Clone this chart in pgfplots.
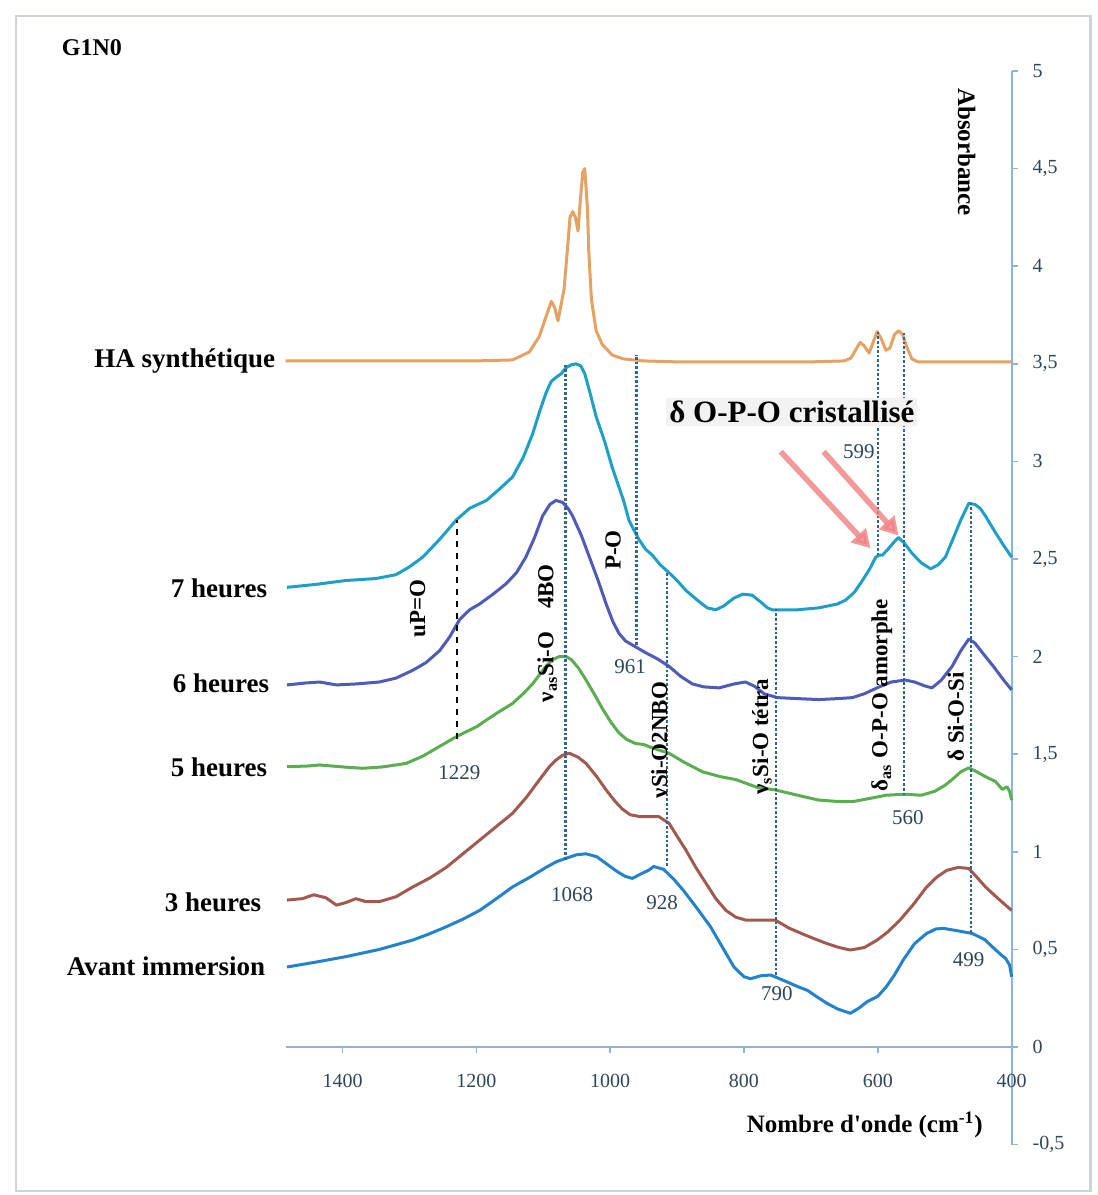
\documentclass[border=0pt]{standalone}
\usepackage{fontspec}
\setmainfont{Liberation Serif}
\usepackage{pgfplots}
\pgfplotsset{compat=1.18}
\usetikzlibrary{arrows.meta}
\definecolor{cHA}{HTML}{E5A263}
\definecolor{cSeven}{HTML}{1EA0C6}
\definecolor{cSix}{HTML}{4F5BB8}
\definecolor{cFive}{HTML}{5BAE4F}
\definecolor{cThree}{HTML}{A15A52}
\definecolor{cAvant}{HTML}{2282CA}
\definecolor{axisblue}{HTML}{8DB6D6}
\definecolor{ticktext}{HTML}{2E4656}
\definecolor{dotline}{HTML}{2F6690}
\definecolor{arrowred}{HTML}{F08080}
\definecolor{framec}{HTML}{CDD3D9}
\newcommand{\fs}[1]{\fontsize{#1}{#1}\selectfont}

\begin{document}
\begin{tikzpicture}
\begin{axis}[
  at={(0,0)}, anchor=south west,
  scale only axis, width=363pt, height=536.8pt,
  x dir=reverse,
  xmin=400, xmax=1485, ymin=-0.5, ymax=5,
  axis x line*=middle, axis y line*=right,
  hide obscured x ticks=false, hide obscured y ticks=false,
  clip=false,
  xtick={400,600,800,1000,1200,1400},
  ytick={-0.5,0,0.5,1,1.5,2,2.5,3,3.5,4,4.5,5},
  tick align=outside,
  major tick length=3pt,
  axis line style={axisblue, line width=1pt},
  tick style={axisblue, line width=0.8pt},
  ticklabel style={font=\fs{10}, text=ticktext},
  xticklabel style={anchor=north, yshift=-7pt},
  yticklabel style={anchor=west, xshift=4pt},
  /pgf/number format/.cd, use comma, 1000 sep={}, assume math mode=true,
]
% frame and bounding box
\draw[framec, line width=1.2pt] (axis cs:1888,-0.738) rectangle (axis cs:282.1,5.282);
\coordinate (bbA) at (axis cs:1911.9,-0.758);
\coordinate (bbB) at (axis cs:271.6,5.364);

% HA synthetique
\addplot[cHA, line width=1.5pt, line join=round] coordinates {
(1485,3.515) (1400,3.515) (1300,3.515) (1200,3.515) (1146,3.52) (1121,3.56) (1106,3.64)
(1096,3.74) (1088,3.82) (1083,3.79) (1078,3.72) (1069,3.88) (1064,4.08) (1060,4.25)
(1056,4.28) (1052,4.25) (1048,4.18) (1045,4.32) (1041,4.48) (1038,4.50) (1034,4.30)
(1032,4.08) (1028,3.83) (1021,3.67) (1012,3.60) (997,3.545) (980,3.525) (950,3.515)
(900,3.51) (800,3.51) (700,3.51) (650,3.515) (640,3.53) (630,3.59) (626,3.61) (620,3.59)
(613,3.555) (606,3.62) (601,3.665) (595,3.63) (588,3.57) (582,3.58) (575,3.65) (569,3.67)
(563,3.65) (556,3.58) (549,3.525) (540,3.51) (500,3.51) (400,3.51)
};
% 7 heures
\addplot[cSeven, line width=1.5pt, line join=round] coordinates {
(1483,2.355) (1440,2.37) (1395,2.39) (1350,2.40) (1320,2.42) (1300,2.46) (1280,2.51)
(1255,2.60) (1230,2.70) (1210,2.76) (1185,2.80) (1165,2.86) (1146,2.92) (1130,3.02)
(1116,3.14) (1105,3.26) (1096,3.35) (1088,3.41) (1081,3.43) (1073,3.45) (1066,3.48)
(1058,3.495) (1051,3.50) (1044,3.49) (1038,3.45) (1030,3.35) (1021,3.23) (1008,3.10)
(997,2.97) (987,2.87) (980,2.80) (972,2.70) (967,2.665) (957,2.60) (947,2.55) (937,2.52)
(925,2.47) (912,2.43) (900,2.39) (887,2.34) (870,2.29) (855,2.25) (842,2.24) (830,2.26)
(815,2.30) (802,2.32) (788,2.315) (775,2.28) (765,2.25) (758,2.24) (720,2.24) (688,2.25)
(660,2.27) (648,2.29) (635,2.33) (623,2.39) (612,2.45) (603,2.51) (598,2.52) (593,2.52)
(585,2.55) (575,2.59) (569,2.61) (560,2.58) (549,2.53) (535,2.48) (521,2.45) (510,2.47)
(499,2.51) (488,2.60) (476,2.70) (464,2.785) (455,2.78) (447,2.76) (439,2.72) (425,2.64)
(412,2.57) (400,2.51)
};
% 6 heures
\addplot[cSix, line width=1.5pt, line join=round] coordinates {
(1483,1.855) (1455,1.865) (1434,1.87) (1409,1.855) (1380,1.86) (1345,1.87) (1320,1.89)
(1295,1.93) (1275,1.97) (1255,2.03) (1240,2.10) (1225,2.19) (1210,2.24) (1195,2.27)
(1175,2.32) (1155,2.375) (1140,2.43) (1126,2.51) (1113,2.61) (1101,2.72) (1090,2.78)
(1081,2.80) (1071,2.79) (1063,2.76) (1056,2.72) (1043,2.62) (1031,2.51) (1018,2.39)
(1006,2.27) (996,2.18) (987,2.12) (977,2.08) (967,2.06) (957,2.04) (947,2.02) (930,1.99)
(912,1.95) (895,1.90) (877,1.86) (860,1.845) (837,1.84) (815,1.86) (798,1.87) (785,1.85)
(770,1.81) (750,1.79) (720,1.785) (688,1.78) (660,1.785) (638,1.79) (620,1.81) (598,1.845)
(580,1.87) (559,1.88) (545,1.87) (530,1.85) (519,1.84) (505,1.88) (489,1.95) (476,2.03)
(464,2.09) (455,2.07) (439,2.00) (425,1.94) (412,1.88) (400,1.83)
};
% 5 heures
\addplot[cFive, line width=1.5pt, line join=round] coordinates {
(1483,1.436) (1450,1.44) (1434,1.445) (1400,1.435) (1370,1.428) (1340,1.435) (1305,1.453)
(1280,1.49) (1255,1.54) (1235,1.58) (1220,1.607) (1200,1.64) (1185,1.675) (1165,1.72)
(1146,1.76) (1130,1.81) (1116,1.86) (1105,1.91) (1096,1.95) (1086,1.985) (1076,2.00)
(1066,2.00) (1058,1.985) (1047,1.94) (1036,1.88) (1024,1.81) (1011,1.73) (998,1.66)
(987,1.61) (975,1.575) (962,1.555) (950,1.55) (935,1.53) (912,1.505) (890,1.46) (862,1.41)
(835,1.385) (812,1.37) (780,1.33) (753,1.317) (720,1.29) (688,1.265) (660,1.258) (638,1.257)
(610,1.275) (588,1.29) (560,1.295) (535,1.29) (515,1.31) (500,1.34) (489,1.37) (476,1.41)
(464,1.43) (452,1.41) (439,1.385) (424,1.36) (414,1.32) (407,1.333) (403,1.31) (400,1.265)
};
% 3 heures
\addplot[cThree, line width=1.5pt, line join=round] coordinates {
(1483,0.753) (1460,0.76) (1443,0.78) (1425,0.765) (1409,0.727) (1395,0.74) (1380,0.76)
(1365,0.745) (1345,0.745) (1320,0.77) (1295,0.82) (1270,0.865) (1245,0.92) (1220,0.99)
(1195,1.06) (1170,1.13) (1146,1.197) (1125,1.28) (1106,1.368) (1090,1.44) (1081,1.47)
(1071,1.495) (1061,1.505) (1048,1.485) (1036,1.453) (1020,1.385) (1006,1.317) (993,1.26)
(982,1.22) (970,1.19) (955,1.18) (940,1.18) (927,1.18) (912,1.146) (900,1.08) (887,1.01)
(872,0.92) (857,0.84) (842,0.76) (827,0.70) (812,0.665) (797,0.65) (775,0.65) (753,0.65)
(733,0.61) (713,0.58) (695,0.555) (676,0.53) (658,0.51) (641,0.497) (620,0.51) (601,0.548)
(585,0.59) (567,0.65) (547,0.73) (527,0.82) (512,0.87) (497,0.905) (480,0.92) (464,0.915)
(452,0.87) (439,0.82) (420,0.76) (400,0.70)
};
% Avant immersion
\addplot[cAvant, line width=1.5pt, line join=round] coordinates {
(1483,0.41) (1440,0.435) (1395,0.463) (1345,0.50) (1295,0.548) (1270,0.58) (1245,0.616)
(1220,0.655) (1195,0.70) (1170,0.76) (1146,0.82) (1120,0.87) (1096,0.92) (1080,0.95)
(1066,0.967) (1050,0.985) (1036,0.99) (1020,0.975) (1006,0.94) (990,0.90) (978,0.875)
(967,0.864) (955,0.885) (942,0.907) (935,0.925) (920,0.91) (905,0.86) (890,0.80) (870,0.71)
(850,0.616) (832,0.51) (815,0.41) (800,0.36) (790,0.35) (775,0.365) (760,0.369) (740,0.34)
(720,0.31) (705,0.29) (690,0.255) (676,0.224) (660,0.195) (641,0.173) (628,0.20) (616,0.232)
(600,0.26) (587,0.31) (575,0.37) (562,0.446) (545,0.53) (527,0.582) (513,0.605) (502,0.608)
(480,0.595) (459,0.582) (440,0.55) (429,0.514) (415,0.47) (409,0.454) (403,0.42) (400,0.36)
};

% vertical marker lines
\addplot[dotline, densely dotted, line width=1.3pt] coordinates {(1067,0.96) (1067,3.50)};
\addplot[dotline, densely dotted, line width=1.3pt] coordinates {(961,2.06) (961,3.545)};
\addplot[dotline, densely dotted, line width=1.3pt] coordinates {(915,0.93) (915,2.43)};
\addplot[dotline, densely dotted, line width=1.3pt] coordinates {(752,0.37) (752,2.25)};
\addplot[dotline, densely dotted, line width=1.3pt] coordinates {(600,2.52) (600,3.665)};
\addplot[dotline, densely dotted, line width=1.3pt] coordinates {(561,1.29) (561,3.67)};
\addplot[dotline, densely dotted, line width=1.3pt] coordinates {(461,0.584) (461,2.79)};
\addplot[black, dashed, line width=1pt] coordinates {(1229,1.58) (1229,2.70)};

% arrows
\draw[arrowred, line width=2.8pt, opacity=0.8, -{Triangle[length=9pt,width=10pt]}] (axis cs:745,3.05) -- (axis cs:611,2.555);
\draw[arrowred, line width=2.8pt, opacity=0.8, -{Triangle[length=9pt,width=10pt]}] (axis cs:681,3.05) -- (axis cs:569,2.62);

% series labels
\node[anchor=east, inner sep=0pt, font=\bfseries\fs{13.5}] at (axis cs:1500,3.515) {HA synthétique};
\node[anchor=east, inner sep=0pt, font=\bfseries\fs{13.5}] at (axis cs:1512,2.35) {7 heures};
\node[anchor=east, inner sep=0pt, font=\bfseries\fs{13.5}] at (axis cs:1509,1.865) {6 heures};
\node[anchor=east, inner sep=0pt, font=\bfseries\fs{13.5}] at (axis cs:1512,1.434) {5 heures};
\node[anchor=east, inner sep=0pt, font=\bfseries\fs{13.5}] at (axis cs:1521,0.743) {3 heures};
\node[anchor=east, inner sep=0pt, font=\bfseries\fs{13.5}] at (axis cs:1515,0.415) {Avant immersion};

% title and axis labels
\node[font=\bfseries\fs{12}] at (axis cs:1774.6,5.118) {G1N0};
\node[rotate=-90, font=\bfseries\fs{12.5}] at (axis cs:467.2,4.585) {Absorbance};
\node[font=\bfseries\fs{12.5}] at (axis cs:619.4,-0.40) {Nombre d\textquotesingle onde (cm\textsuperscript{-1})};

% band labels
\node[fill=gray!10, inner sep=1.5pt, font=\bfseries\fs{15.5}] at (axis cs:728.4,3.253) {δ O-P-O cristallisé};
\node[rotate=90, font=\bfseries\fs{11.5}] at (axis cs:1287.6,2.247) {uP=O};
\node[rotate=90, font=\bfseries\fs{11.5}] at (axis cs:1094,2.12) {ν\textsubscript{as}Si-O\hspace{1em}4BO};
\node[rotate=90, font=\bfseries\fs{11.5}] at (axis cs:995.5,2.546) {P-O};
\node[rotate=90, font=\bfseries\fs{11.5}] at (axis cs:926.8,1.573) {νSi-O2NBO};
\node[rotate=90, font=\bfseries\fs{11.5}] at (axis cs:773.1,1.588) {ν\textsubscript{s}Si-O tétra};
\node[rotate=90, font=\bfseries\fs{11.5}] at (axis cs:594,1.803) {δ\textsubscript{as} O-P-O amorphe};
\node[rotate=90, font=\bfseries\fs{11.5}] at (axis cs:483.6,1.691) {δ Si-O-Si};

% wavenumber values
\node[text=ticktext, font=\fs{10.5}] at (axis cs:628.4,3.048) {599};
\node[text=ticktext, font=\fs{10.5}] at (axis cs:970.1,1.947) {961};
\node[text=ticktext, font=\fs{10.5}] at (axis cs:1225.4,1.404) {1229};
\node[text=ticktext, font=\fs{10.5}] at (axis cs:1056.7,0.779) {1068};
\node[text=ticktext, font=\fs{10.5}] at (axis cs:922.4,0.738) {928};
\node[text=ticktext, font=\fs{10.5}] at (axis cs:750.7,0.272) {790};
\node[text=ticktext, font=\fs{10.5}] at (axis cs:555.2,1.173) {560};
\node[text=ticktext, font=\fs{10.5}] at (axis cs:464.2,0.446) {499};
\end{axis}
\pgfresetboundingbox
\path[use as bounding box] (bbA) rectangle (bbB);
\end{tikzpicture}
\end{document}
